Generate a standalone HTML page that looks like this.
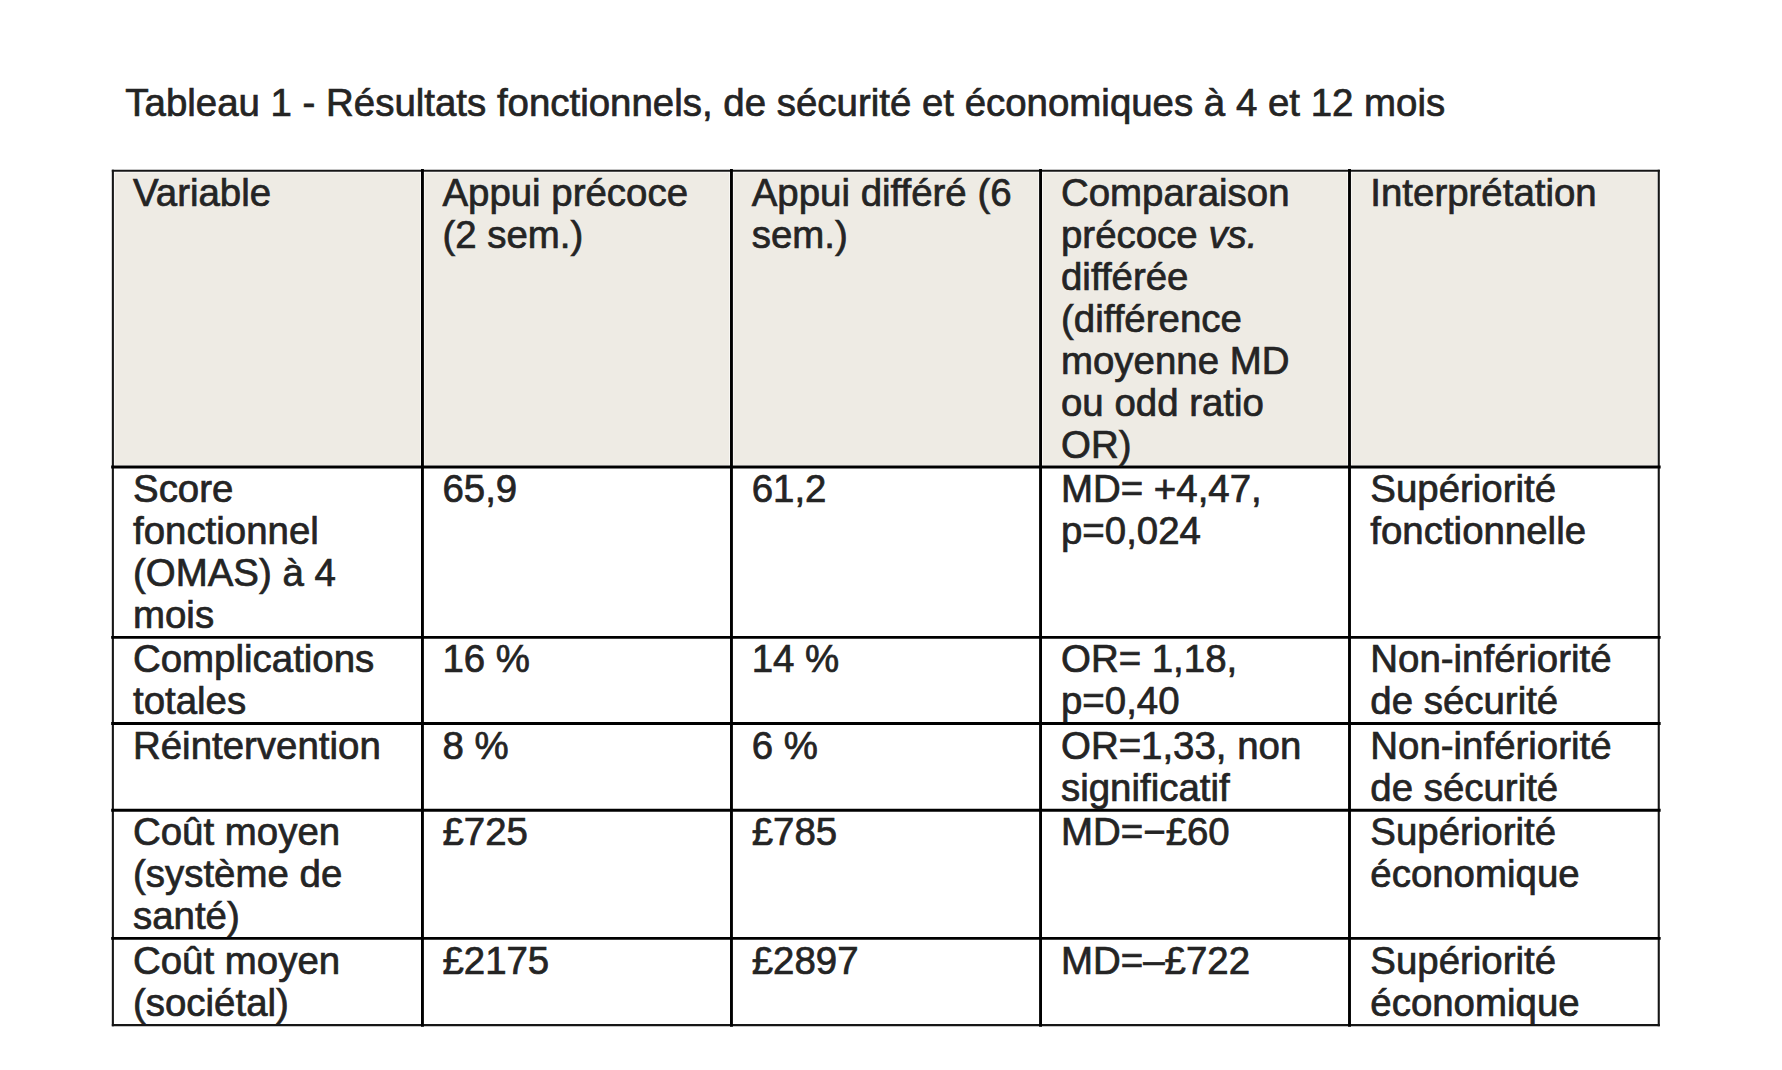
<!DOCTYPE html>
<html lang="fr">
<head>
<meta charset="utf-8">
<title>Tableau 1</title>
<style>
html,body{margin:0;padding:0;background:#fff;}
body{width:1782px;height:1070px;position:relative;overflow:hidden;font-family:"Liberation Sans",Arial,Helvetica,sans-serif;color:#242424;}
#grid{position:absolute;left:0;top:0;width:1782px;height:1070px;}
.t{position:absolute;white-space:nowrap;font-size:38.43px;line-height:42px;margin:0;-webkit-text-stroke:0.7px #242424;}
</style>
</head>
<body>
<svg id="grid" width="1782" height="1070" viewBox="0 0 1782 1070">
<g fill="#eeebe4">
<rect x="114.52" y="172.45" width="305.88" height="292.50"/>
<rect x="424.50" y="172.45" width="304.91" height="292.50"/>
<rect x="733.51" y="172.45" width="304.99" height="292.50"/>
<rect x="1042.60" y="172.45" width="304.85" height="292.50"/>
<rect x="1351.55" y="172.45" width="305.56" height="292.50"/>
</g>
<g stroke="#161616" stroke-width="2.1" stroke-linecap="square" fill="none">
<line x1="112.87" y1="170.8" x2="1658.76" y2="170.8"/>
<line x1="112.87" y1="1025.1" x2="1658.76" y2="1025.1"/>
<line x1="112.87" y1="170.8" x2="112.87" y2="1025.1"/>
<line x1="1658.76" y1="170.8" x2="1658.76" y2="1025.1"/>
</g>
<g stroke="#000" stroke-width="2.9" stroke-linecap="butt" fill="none">
<line x1="111.17" y1="467" x2="1660.66" y2="467"/>
<line x1="111.17" y1="637.36" x2="1660.66" y2="637.36"/>
<line x1="111.17" y1="723.52" x2="1660.66" y2="723.52"/>
<line x1="111.17" y1="810.27" x2="1660.66" y2="810.27"/>
<line x1="111.17" y1="938.41" x2="1660.66" y2="938.41"/>
<line x1="422.45" y1="169.1" x2="422.45" y2="1026.8"/>
<line x1="731.46" y1="169.1" x2="731.46" y2="1026.8"/>
<line x1="1040.55" y1="169.1" x2="1040.55" y2="1026.8"/>
<line x1="1349.5" y1="169.1" x2="1349.5" y2="1026.8"/>
</g></svg>
<h1 class="t" style="font-weight:normal;left:125.3px;top:81.60px">Tableau 1 - Résultats fonctionnels, de sécurité et économiques à 4 et 12 mois</h1>
<div role="table">
<div role="row">
<div role="columnheader" class="t" style="left:133.00px;top:171.60px">Variable</div>
<div role="columnheader" class="t" style="left:442.40px;top:171.60px">Appui précoce<br>(2 sem.)</div>
<div role="columnheader" class="t" style="left:751.70px;top:171.60px">Appui différé (6<br>sem.)</div>
<div role="columnheader" class="t" style="left:1061.00px;top:171.60px">Comparaison<br>précoce <i>vs.</i><br>différée<br>(différence<br>moyenne MD<br>ou odd ratio<br>OR)</div>
<div role="columnheader" class="t" style="left:1370.30px;top:171.60px">Interprétation</div>
</div>
<div role="row">
<div role="cell" class="t" style="left:133.00px;top:467.60px">Score<br>fonctionnel<br>(OMAS) à 4<br>mois</div>
<div role="cell" class="t" style="left:442.40px;top:467.60px">65,9</div>
<div role="cell" class="t" style="left:751.70px;top:467.60px">61,2</div>
<div role="cell" class="t" style="left:1061.00px;top:467.60px">MD= +4,47,<br>p=0,024</div>
<div role="cell" class="t" style="left:1370.30px;top:467.60px">Supériorité<br>fonctionnelle</div>
</div>
<div role="row">
<div role="cell" class="t" style="left:133.00px;top:637.60px">Complications<br>totales</div>
<div role="cell" class="t" style="left:442.40px;top:637.60px">16 %</div>
<div role="cell" class="t" style="left:751.70px;top:637.60px">14 %</div>
<div role="cell" class="t" style="left:1061.00px;top:637.60px">OR= 1,18,<br>p=0,40</div>
<div role="cell" class="t" style="left:1370.30px;top:637.60px">Non-infériorité<br>de sécurité</div>
</div>
<div role="row">
<div role="cell" class="t" style="left:133.00px;top:724.60px">Réintervention</div>
<div role="cell" class="t" style="left:442.40px;top:724.60px">8 %</div>
<div role="cell" class="t" style="left:751.70px;top:724.60px">6 %</div>
<div role="cell" class="t" style="left:1061.00px;top:724.60px">OR=1,33, non<br>significatif</div>
<div role="cell" class="t" style="left:1370.30px;top:724.60px">Non-infériorité<br>de sécurité</div>
</div>
<div role="row">
<div role="cell" class="t" style="left:133.00px;top:810.60px">Coût moyen<br>(système de<br>santé)</div>
<div role="cell" class="t" style="left:442.40px;top:810.60px">£725</div>
<div role="cell" class="t" style="left:751.70px;top:810.60px">£785</div>
<div role="cell" class="t" style="left:1061.00px;top:810.60px">MD=−£60</div>
<div role="cell" class="t" style="left:1370.30px;top:810.60px">Supériorité<br>économique</div>
</div>
<div role="row">
<div role="cell" class="t" style="left:133.00px;top:939.60px">Coût moyen<br>(sociétal)</div>
<div role="cell" class="t" style="left:442.40px;top:939.60px">£2175</div>
<div role="cell" class="t" style="left:751.70px;top:939.60px">£2897</div>
<div role="cell" class="t" style="left:1061.00px;top:939.60px">MD=–£722</div>
<div role="cell" class="t" style="left:1370.30px;top:939.60px">Supériorité<br>économique</div>
</div>
</div>
</body>
</html>
